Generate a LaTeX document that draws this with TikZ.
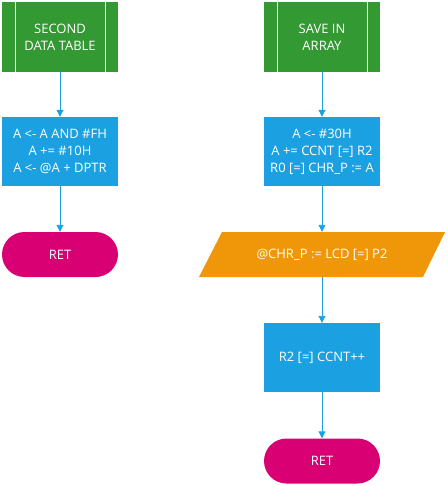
\documentclass[tikz,border=0pt]{standalone}
\usepackage{fontspec}
\setmainfont{Open Sans}
\usetikzlibrary{arrows.meta}
\definecolor{cgreen}{HTML}{339933}
\definecolor{cblue}{HTML}{1BA1E2}
\definecolor{cmag}{HTML}{D80073}
\definecolor{corange}{HTML}{F09609}
\tikzset{
  x=1pt,y=-1pt,
  base/.style={text=white,font=\fontsize{13}{17}\selectfont,align=center,inner sep=0pt},
  subbox/.style={base,fill=cgreen,minimum width=116pt,minimum height=70pt},
  procbox/.style={base,fill=cblue,minimum width=116pt,minimum height=69pt},
  termbox/.style={base,fill=cmag,minimum width=116pt,minimum height=45pt,rounded corners=22.5pt},
  iobox/.style={base,minimum width=200pt,minimum height=45pt},
  conn/.style={draw=cblue,line width=0.9pt,-{Triangle[width=7pt,length=7pt]}},
}
\begin{document}
\begin{tikzpicture}
\useasboundingbox (0,0) rectangle (447,486);
% left column
\node[subbox] (s1) at (60,37) {SECOND\\DATA TABLE};
\draw[white,line width=0.8pt] (15,2) -- (15,72) (105,2) -- (105,72);
\node[procbox] (p1) at (60,151.5) {A <- A AND \#FH\\A += \#10H\\A <- @A + DPTR};
\node[termbox] (r1) at (60,254.5) {RET};
% right column
\node[subbox] (s2) at (322,37) {SAVE IN\\ARRAY};
\draw[white,line width=0.8pt] (277,2) -- (277,72) (367,2) -- (367,72);
\node[procbox] (p2) at (322,151.5) {A <- \#30H\\A += CCNT [=] R2\\R0 [=] CHR\_P := A};
\fill[corange] (222,232) -- (445,232) -- (423,277) -- (199,277) -- cycle;
\node[iobox] (io) at (322,254.5) {@CHR\_P := LCD [=] P2};
\node[procbox] (p3) at (322,357.5) {R2 [=] CCNT++};
\node[termbox] (r2) at (322,461) {RET};
\draw[conn] (s1) -- (p1);
\draw[conn] (p1) -- (r1);
\draw[conn] (s2) -- (p2);
\draw[conn] (p2) -- (io);
\draw[conn] (io) -- (p3);
\draw[conn] (p3) -- (r2);
\end{tikzpicture}
\end{document}
